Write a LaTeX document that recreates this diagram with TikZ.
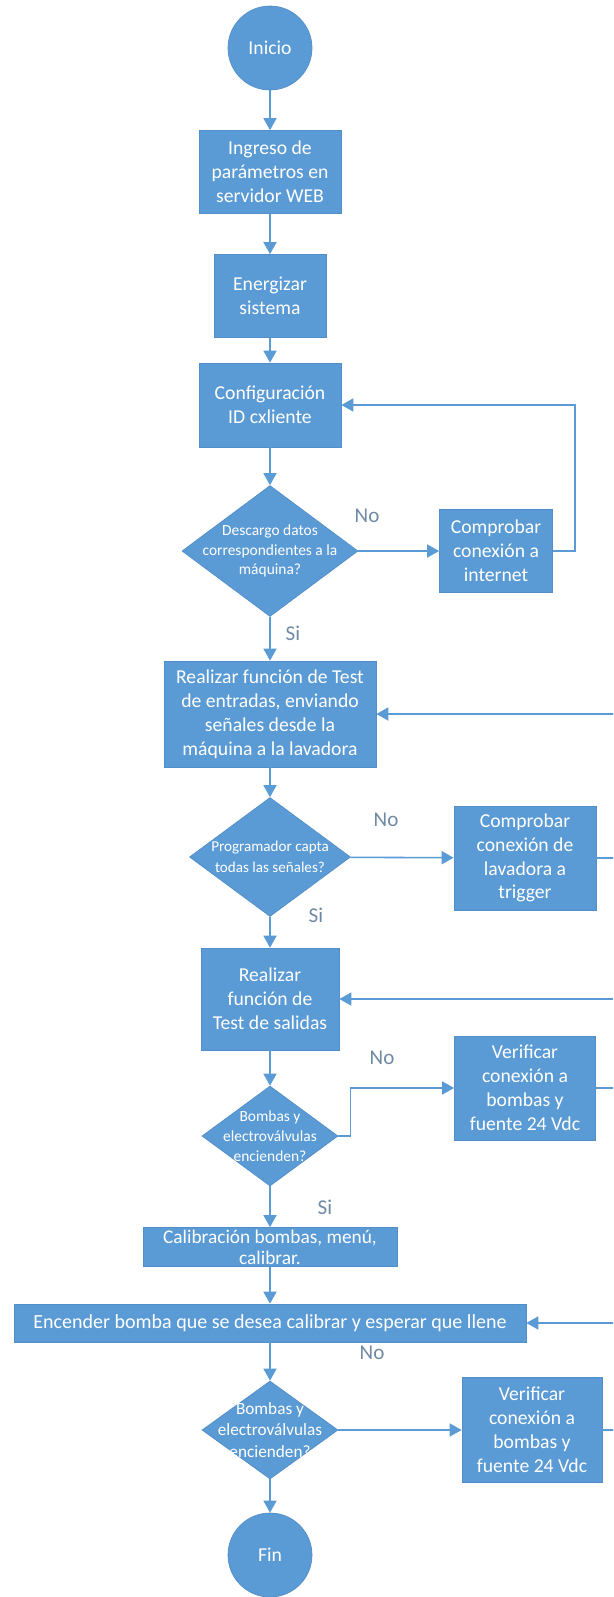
\documentclass[tikz,border=0pt]{standalone}
\usepackage{fontspec}
\setmainfont{Carlito}
\usetikzlibrary{shapes.geometric,arrows.meta}
\definecolor{azul}{RGB}{91,155,213}
\definecolor{borde}{RGB}{82,142,200}
\definecolor{etiq}{RGB}{112,138,164}
\begin{document}
\begin{tikzpicture}[x=0.02cm, y=-0.02cm, >={Triangle[length=0.24cm,width=0.26cm]},
  caja/.style={rectangle, fill=azul, draw=borde, text=white, align=center, inner sep=0pt, font=\fontsize{11.2}{13.6}\selectfont},
  rombo/.style={diamond, fill=azul, draw=borde, text=white, align=center, inner xsep=-0.6cm, inner ysep=-0.2cm, font=\fontsize{8.8}{11.3}\selectfont},
  term/.style={circle, fill=azul, draw=borde, text=white, minimum size=1.68cm, inner sep=0pt, font=\fontsize{11.2}{13.6}\selectfont},
  flecha/.style={->, draw=azul, line width=0.9pt},
  etq/.style={text=etiq, font=\fontsize{12}{14}\selectfont}]
\def\xmax{613} \def\ymax{1597}
\useasboundingbox (0,0) rectangle (\xmax,\ymax);
\clip (0,0) rectangle (\xmax,\ymax);
% columna principal
\node[term] (inicio) at (270,48) {Inicio};
\node[caja, minimum width=2.84cm, minimum height=1.66cm] (ingreso) at (270,172) {Ingreso de\\parámetros en\\servidor WEB};
\node[caja, minimum width=2.24cm, minimum height=1.66cm] (energ) at (270,296) {Energizar\\sistema};
\node[caja, minimum width=2.84cm, minimum height=1.68cm] (config) at (270,405) {Configuración\\ID cxliente};
\node[rombo, minimum width=3.52cm, minimum height=2.62cm] (desc) at (270,551) {Descargo datos\\correspondientes a la\\máquina?};
\node[caja, minimum width=4.24cm, minimum height=2.12cm] (tent) at (270,714) {Realizar función de Test\\de entradas, enviando\\señales desde la\\máquina a la lavadora};
\node[rombo, minimum width=3.22cm, minimum height=2.38cm, font=\fontsize{8.6}{12}\selectfont] (prog) at (270,857) {Programador capta\\todas las señales?};
\node[caja, minimum width=2.76cm, minimum height=2.04cm] (tsal) at (270,999) {Realizar\\función de\\Test de salidas};
\node[rombo, minimum width=2.72cm, minimum height=2.0cm] (bomb) at (270,1136) {Bombas y\\electroválvulas\\encienden?};
\node[caja, minimum width=5.08cm, minimum height=0.78cm, inner ysep=-0.1cm, font=\fontsize{11}{12}\selectfont] (calib) at (270,1247) {Calibración bombas, menú,\\calibrar.};
\node[caja, minimum width=10.24cm, minimum height=0.76cm, font=\fontsize{11.4}{13.6}\selectfont] (encen) at (270,1323) {Encender bomba que se desea calibrar y esperar que llene};
\node[rombo, minimum width=2.72cm, minimum height=1.96cm, font=\fontsize{9.8}{12}\selectfont] (bombb) at (270,1430) {Bombas y\\electroválvulas\\encienden?};
\node[term] (fin) at (270,1555) {Fin};
% columna derecha
\node[caja, minimum width=2.26cm, minimum height=1.66cm] (compr) at (496,551) {Comprobar\\conexión a\\internet};
\node[caja, minimum width=2.84cm, minimum height=2.08cm] (trig) at (525,858) {Comprobar\\conexión de\\lavadora a\\trigger};
\node[caja, minimum width=2.82cm, minimum height=2.08cm] (verif) at (525,1088) {Verificar\\conexión a\\bombas y\\fuente 24 Vdc};
\node[caja, minimum width=2.8cm, minimum height=2.1cm] (verifb) at (532,1430) {Verificar\\conexión a\\bombas y\\fuente 24 Vdc};
% etiquetas
\node[etq] (no1) at (367,516) {No};
\node[etq] (si1) at (293,633) {Si};
\node[etq] (no2) at (386,820) {No};
\node[etq] (si2) at (316,915) {Si};
\node[etq] (no3) at (382,1058) {No};
\node[etq] (si3) at (325,1207) {Si};
\node[etq] (no4) at (372,1353) {No};
% conectores
\draw[flecha] (inicio) -- (ingreso);
\draw[flecha] (ingreso) -- (energ);
\draw[flecha] (energ) -- (config);
\draw[flecha] (config) -- (desc);
\draw[flecha] (desc) -- (tent);
\draw[flecha] (tent) -- (prog);
\draw[flecha] (prog) -- (tsal);
\draw[flecha] (tsal) -- (bomb);
\draw[flecha] (bomb) -- (calib);
\draw[flecha] (calib) -- (encen);
\draw[flecha] (encen) -- (bombb);
\draw[flecha] (bombb) -- (fin);
\draw[flecha] (desc) -- (compr);
\draw[flecha] (compr.east) -- ++(22,0) |- (config.east);
\draw[flecha] (prog) -- (trig);
\draw[flecha] (trig.east) -- (630,858) |- (tent.east);
\draw[flecha] (bomb.east) -- ++(12,0) |- (verif.west);
\draw[flecha] (verif.east) -- (630,1088) |- (tsal.east);
\draw[flecha] (bombb) -- (verifb);
\draw[flecha] (verifb.east) -- (630,1430) |- (encen.east);
\end{tikzpicture}
\end{document}
